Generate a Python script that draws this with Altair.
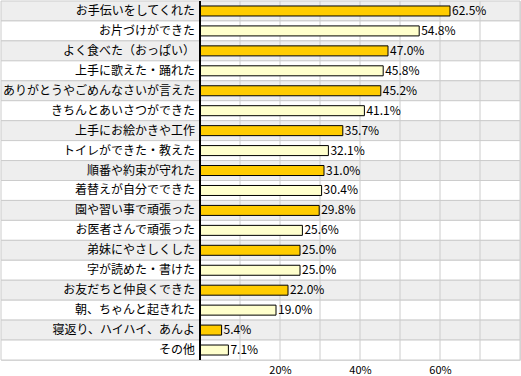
import altair as alt
import pandas as pd

labels = [
    "お手伝いをしてくれた", "お片づけができた", "よく食べた（おっぱい）", "上手に歌えた・踊れた",
    "ありがとうやごめんなさいが言えた", "きちんとあいさつができた", "上手にお絵かきや工作",
    "トイレができた・教えた", "順番や約束が守れた", "着替えが自分でできた", "園や習い事で頑張った",
    "お医者さんで頑張った", "弟妹にやさしくした", "字が読めた・書けた", "お友だちと仲良くできた",
    "朝、ちゃんと起きれた", "寝返り、ハイハイ、あんよ", "その他",
]
values = [62.5, 54.8, 47.0, 45.8, 45.2, 41.1, 35.7, 32.1, 31.0, 30.4, 29.8,
          25.6, 25.0, 25.0, 22.0, 19.0, 5.4, 7.1]
tick_values = [20, 40, 60]
grid_values = [10, 20, 30, 40, 50, 60, 70]

df = pd.DataFrame({"label": labels, "value": values, "idx": list(range(len(labels)))})
grid_df = pd.DataFrame({"g": grid_values})

FONT = "Noto Sans CJK JP"
W, H = 519, 359
xscale = alt.Scale(domain=[-49.75, 80], nice=False, zero=False)
yenc = alt.Y("label:N", sort=labels, axis=None,
             scale=alt.Scale(paddingInner=0, paddingOuter=0))

base = alt.Chart(df).transform_calculate(parity="datum.idx % 2")

bg = base.mark_rect(stroke="#CCCCCC", strokeWidth=1).encode(
    x=alt.value(0), x2=alt.value(W), y=yenc,
    color=alt.condition("datum.parity == 0", alt.value("#EEEEEE"), alt.value("#FFFFFF")),
)

grid = alt.Chart(grid_df).mark_rule(color="#CCCCCC", strokeWidth=1).encode(
    x=alt.X("g:Q", scale=xscale,
            axis=alt.Axis(values=tick_values, labelExpr="datum.value + '%'", domain=False,
                          ticks=False, grid=False, title=None, labelFont=FONT,
                          labelFontSize=11, labelColor="black", labelPadding=4))
)

bars = base.mark_bar(size=10, stroke="black", strokeWidth=1).encode(
    x=alt.X("value:Q", scale=xscale),
    y=yenc,
    color=alt.condition("datum.parity == 0", alt.value("#FFCC00"), alt.value("#FFFFCC")),
)

axis_line = alt.Chart(pd.DataFrame({"z": [0]})).mark_rule(color="black", strokeWidth=2).encode(
    x=alt.X("z:Q", scale=xscale)
)

cat_text = base.mark_text(align="right", baseline="middle", font=FONT, fontSize=12,
                          color="black").encode(
    x=alt.value(194), y=yenc, text="label:N"
)

val_text = base.transform_calculate(
    txt="format(datum.value, '.1f') + '%'"
).mark_text(align="left", baseline="middle", dx=2, font=FONT, fontSize=12,
            color="black").encode(
    x=alt.X("value:Q", scale=xscale), y=yenc, text="txt:N"
)

chart = alt.layer(bg, grid, bars, axis_line, cat_text, val_text).properties(
    width=W, height=H,
    autosize=alt.AutoSizeParams(type="none"),
    padding={"left": 1, "top": 1, "right": 1, "bottom": 16},
).configure_view(stroke="black", strokeWidth=2).configure(background="white")

chart.save("out.html", embed_options={"renderer": "svg", "actions": False})
